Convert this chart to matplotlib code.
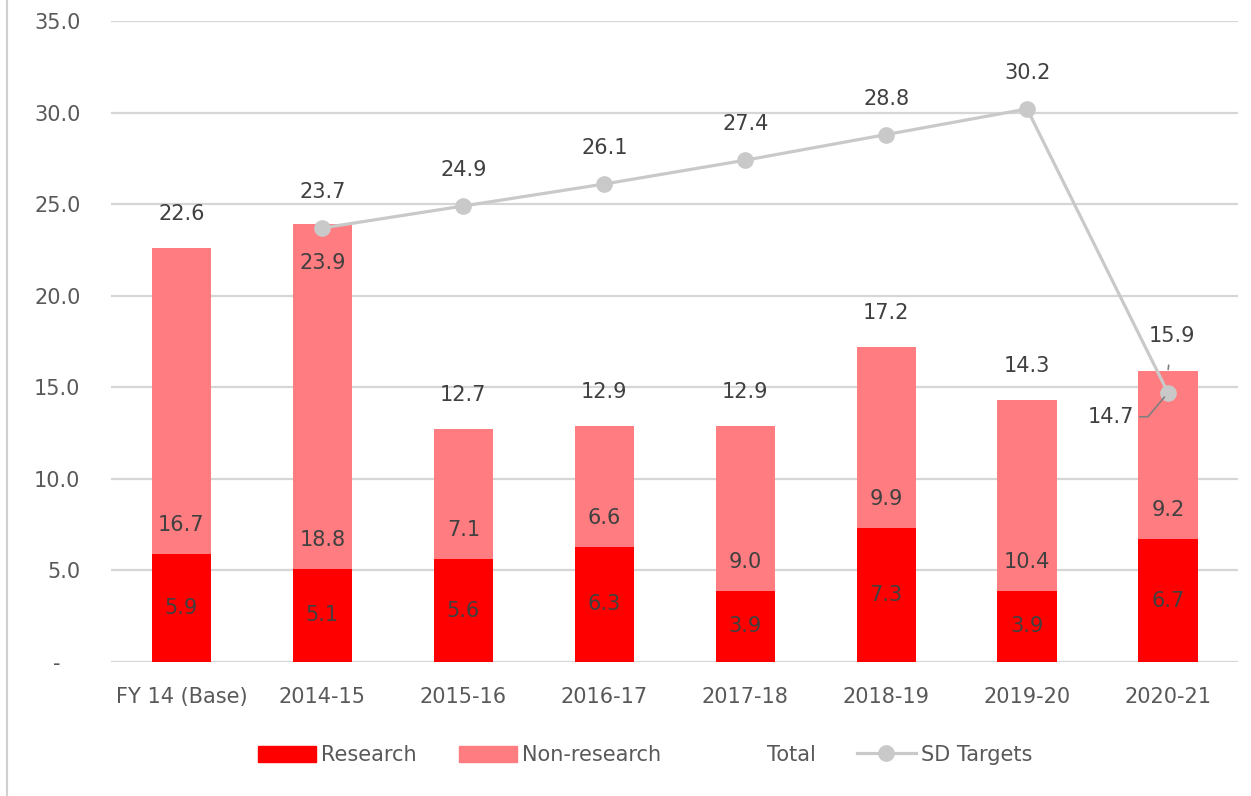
import numpy as np
import matplotlib
matplotlib.use("Agg")
import matplotlib.pyplot as plt
from matplotlib.lines import Line2D
from matplotlib.patches import Patch

plt.rcParams['font.family'] = ['DejaVu Sans']

years = ["FY 14 (Base)", "2014-15", "2015-16", "2016-17", "2017-18", "2018-19", "2019-20", "2020-21"]
research = [5.9, 5.1, 5.6, 6.3, 3.9, 7.3, 3.9, 6.7]
non_research = [16.7, 18.8, 7.1, 6.6, 9.0, 9.9, 10.4, 9.2]
total = [22.6, 23.9, 12.7, 12.9, 12.9, 17.2, 14.3, 15.9]
sd_targets = [np.nan, 23.7, 24.9, 26.1, 27.4, 28.8, 30.2, 14.7]

RED = "#FF0000"
PINK = "#FF7C80"
GREY = "#C9C9C9"
LBL = "#404040"
TICK = "#595959"
FS = 15

x = np.arange(len(years))
fig = plt.figure(figsize=(12.51, 7.96), dpi=100)
ax = fig.add_axes([0.0887, 0.1683, 0.9013, 0.8053])

w = 0.42
ax.bar(x, research, w, color=RED, zorder=2)
ax.bar(x, non_research, w, bottom=research, color=PINK, zorder=2)
ax.plot(x, sd_targets, color=GREY, lw=2.3, marker="o", ms=11, mfc=GREY, mec=GREY, zorder=4)

# labels: research centred, non-research just above its base
for i in range(len(years)):
    ax.text(x[i], research[i] / 2, f"{research[i]:.1f}", ha="center", va="center",
            fontsize=FS, color=LBL, zorder=5)
    ax.annotate(f"{non_research[i]:.1f}", (x[i], research[i]), xytext=(0, 29),
                textcoords="offset pixels", ha="center", va="center", fontsize=FS, color=LBL, zorder=5)

# totals above the bars
for i in range(len(years)):
    if i == 1:
        off = (0, -39)
    elif i == 7:
        continue
    else:
        off = (0, 34)
    ax.annotate(f"{total[i]:.1f}", (x[i], total[i]), xytext=off, textcoords="offset pixels",
                ha="center", va="center", fontsize=FS, color=LBL, zorder=5)
ax.annotate(f"{total[7]:.1f}", (x[7], total[7]), xytext=(4, 35), textcoords="offset pixels",
            ha="center", va="center", fontsize=FS, color=LBL, zorder=5,
            arrowprops=dict(arrowstyle="-", color="#7F7F7F", lw=1.2, shrinkA=12, shrinkB=1))

# SD target labels
for i in range(1, 7):
    ax.annotate(f"{sd_targets[i]:.1f}", (x[i], sd_targets[i]), xytext=(0, 36),
                textcoords="offset pixels", ha="center", va="center", fontsize=FS, color=LBL, zorder=5)
ax.annotate(f"{sd_targets[7]:.1f}", (x[7], sd_targets[7]), xytext=(-57, -24),
            textcoords="offset pixels", ha="center", va="center", fontsize=FS, color=LBL, zorder=5,
            arrowprops=dict(arrowstyle="-", color="#7F7F7F", lw=1.2, shrinkA=2, shrinkB=4,
                            connectionstyle="angle,angleA=0,angleB=50,rad=0"))

ax.set_xlim(-0.5, len(years) - 0.5)
ax.set_ylim(0, 35)
yt = np.arange(0, 36, 5)
ax.set_yticks(yt)
ax.set_yticklabels(["-   "] + [f"{v:.1f}" for v in yt[1:]])
ax.set_xticks(x)
ax.set_xticklabels(years)
ax.tick_params(axis="both", length=0, labelsize=FS, labelcolor=TICK)
ax.tick_params(axis="y", pad=22)
ax.tick_params(axis="x", pad=18)
ax.grid(axis="y", color="#D6D6D6", lw=1.6, zorder=0)
ax.set_axisbelow(True)
for s in ax.spines.values():
    s.set_visible(False)

fig.add_artist(Line2D([0.0056, 0.0056], [0, 1], color="#D0D0D0", lw=1.5))

handles = [Patch(color=RED), Patch(color=PINK),
           Line2D([], [], color="none"),
           Line2D([], [], color=GREY, lw=2.3, marker="o", ms=11, mfc=GREY, mec=GREY)]
fig.legend(handles, ["Research", "Non-research", "Total", "SD Targets"], loc="center",
           bbox_to_anchor=(0.5156, 0.0515), ncol=4, frameon=False, fontsize=FS,
           handlelength=2.8, handleheight=0.8, handletextpad=0.25, columnspacing=2.0,
           labelcolor=TICK)

fig.savefig("out.png", dpi=100, facecolor="white")
